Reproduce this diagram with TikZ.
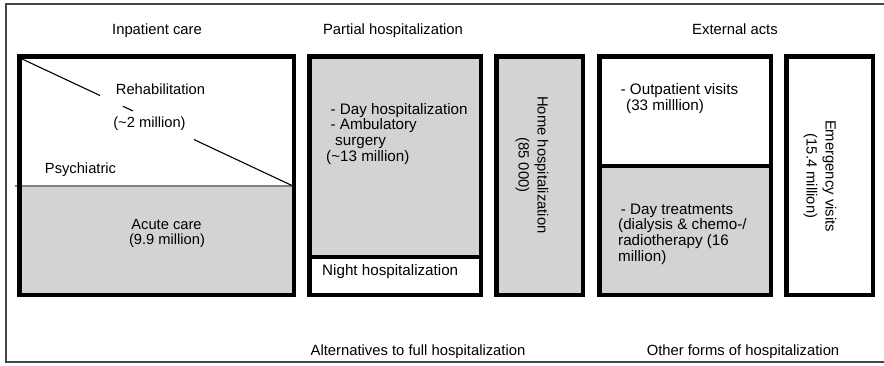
\documentclass[tikz,border=0pt]{standalone}
\usepackage{fontspec}
\setmainfont{Liberation Sans}
\usetikzlibrary{calc}
\definecolor{cellgray}{RGB}{211,211,211}
\definecolor{framegray}{RGB}{70,70,70}
\definecolor{splitgray}{RGB}{130,130,130}
\begin{document}
\begin{tikzpicture}[x=1pt,y=-1pt,
  frame/.style={draw=black,line width=4.5pt},
  divider/.style={draw=black,line width=3.5pt},
  title/.style={inner sep=0pt,anchor=base,font=\fontsize{14.8}{17}\selectfont},
  cell/.style={inner sep=0pt,anchor=base,font=\fontsize{14.7}{16}\selectfont},
  list/.style={inner sep=0pt,anchor=base west,align=left,font=\fontsize{15.2}{15.6}\selectfont},
  upright/.style={inner sep=0pt,anchor=center,align=center,rotate=-90,font=\fontsize{14.8}{19}\selectfont}]
\useasboundingbox (0,0) rectangle (884,365);

% outer frame, open on the right
\draw[framegray,line width=1.8pt] (884,4) -- (6,4) -- (6,362) -- (884,362);

% shaded parts of the cells
\fill[cellgray] (19,186) rectangle (294,295);
\fill[cellgray] (309,56) rectangle (481,257);
\fill[cellgray] (496,56) rectangle (583,295);
\fill[cellgray] (599,166) rectangle (771,295);

% inpatient care: split line and diagonal
\draw[splitgray,line width=1.5pt] (15,186) -- (295,186);
\coordinate (d1) at (20,58);
\coordinate (d2) at (293,186);
\draw[line width=1.1pt] (d1) -- ($(d1)!0.293!(d2)$);
\draw[line width=1.1pt] ($(d1)!0.377!(d2)$) -- ($(d1)!0.414!(d2)$);
\draw[line width=1.1pt] ($(d1)!0.637!(d2)$) -- (d2);

% inner dividers
\draw[divider] (309,257) -- (481,257);
\draw[divider] (599,166) -- (771,166);

% cell borders
\draw[frame] (19.25,56.25) rectangle (293.75,294.75);
\draw[frame] (309.25,56.25) rectangle (480.75,294.75);
\draw[frame] (496.25,56.25) rectangle (582.75,294.75);
\draw[frame] (599.25,56.25) rectangle (770.75,294.75);
\draw[frame] (786.25,56.25) rectangle (872.75,294.75);

% headings
\node[title] (inpat) at (157,34) {Inpatient care};
\node[title] (partial) at (393,34) {Partial hospitalization};
\node[title] (external) at (735,34) {External acts};
\node[title] (altern) at (418,355) {Alternatives to full hospitalization};
\node[title] (other) at (743,355) {Other forms of hospitalization};

% inpatient care
\node[cell] (rehab) at (160.5,94) {Rehabilitation};
\node[cell] (rehabn) at (149.5,127) {(\textasciitilde2 million)};
\node[cell] (psych) at (80.5,173) {Psychiatric};
\node[cell] (acute) at (166.5,229) {Acute care};
\node[cell] (acuten) at (167,244) {(9.9 million)};

% partial hospitalization (list nodes sit on the baseline of their last line)
\node[list] (day) at (326,161) {\hspace{4.5pt}- Day hospitalization\\\hspace{4.5pt}- Ambulatory\\\hspace{9pt}surgery\\(\textasciitilde13 million)};
\node[list] (night) at (322,275) {Night hospitalization};
\node[upright] (home) at (532,165) {Home hospitalization\\(85 000)};

% external acts
\node[list] (outpat) at (620.5,110) {- Outpatient visits\\\hspace{5.5pt}(33 milllion)};
\node[list] (treat) at (618,261) {\hspace{2.7pt}- Day treatments\\(dialysis \& chemo-/\\radiotherapy (16\\million)};
\node[upright] (emerg) at (820,176) {Emergency visits\\(15.4 million)};
\end{tikzpicture}
\end{document}
